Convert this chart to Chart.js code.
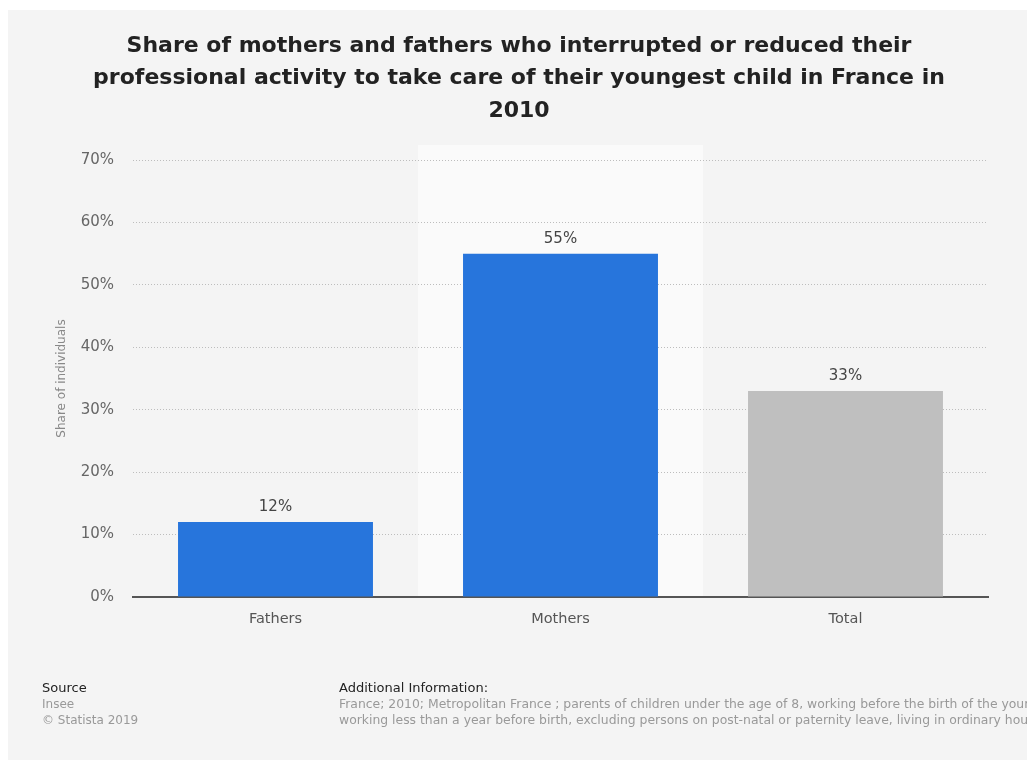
<!DOCTYPE html>
<html>
<head>
<meta charset="utf-8">
<script src="https://cdn.jsdelivr.net/npm/chart.js@4/dist/chart.umd.min.js"></script>
<style>
  html, body { margin: 0; padding: 0; background: #fff; }
  #wrap { width: 1027px; height: 762px; position: relative; }
</style>
</head>
<body>
<div id="wrap"><canvas id="chart" width="1027" height="762"></canvas></div>
<script>
var categories = ["Fathers", "Mothers", "Total"];
var shares = [12, 55, 33];
var barColors = ["#2775dc", "#2775dc", "#bfbfbf"];
var yTicks = [0, 10, 20, 30, 40, 50, 60, 70];

var titleLines = [
  "Share of mothers and fathers who interrupted or reduced their",
  "professional activity to take care of their youngest child in France in",
  "2010"
];
var infoLines = [
  "France; 2010; Metropolitan France ; parents of children under the age of 8, working before the birth of the youngest child or having stopped",
  "working less than a year before birth, excluding persons on post-natal or paternity leave, living in ordinary households"
];

var font = "'DejaVu Sans', sans-serif";

var panelBg = {
  id: "panelBg",
  beforeDraw: function (chart) {
    var ctx = chart.ctx, a = chart.chartArea, x = chart.scales.x;
    ctx.save();
    ctx.fillStyle = "#ffffff";
    ctx.fillRect(0, 0, chart.width, chart.height);
    ctx.fillStyle = "#f4f4f4";
    ctx.fillRect(8, 10, chart.width - 8, chart.height - 12);
    // highlighted column behind the Mothers bar
    var half = (a.right - a.left) / categories.length / 2;
    var cx = x.getPixelForValue(1);
    ctx.fillStyle = "#fafafa";
    ctx.fillRect(cx - half, a.top - 15, half * 2, a.bottom - a.top + 15);
    // title
    ctx.font = "bold 22px " + font;
    ctx.fillStyle = "#222";
    ctx.textAlign = "center";
    ctx.textBaseline = "middle";
    titleLines.forEach(function (t, i) {
      ctx.fillText(t, 519, 46 + i * 32.5);
    });
    ctx.restore();
  }
};

var valueLabels = {
  id: "valueLabels",
  afterDatasetsDraw: function (chart) {
    var ctx = chart.ctx;
    var meta = chart.getDatasetMeta(0);
    ctx.save();
    ctx.font = "15px " + font;
    ctx.fillStyle = "#444";
    ctx.textAlign = "center";
    ctx.textBaseline = "middle";
    meta.data.forEach(function (bar, i) {
      ctx.fillText(shares[i] + "%", bar.x, bar.y - 15);
    });
    ctx.restore();
  }
};

var footer = {
  id: "footer",
  afterDraw: function (chart) {
    var ctx = chart.ctx;
    ctx.save();
    ctx.textBaseline = "middle";
    ctx.textAlign = "left";
    ctx.font = "13px " + font;
    ctx.fillStyle = "#222";
    ctx.fillText("Source", 42, 689);
    ctx.fillText("Additional Information:", 339, 689);
    ctx.font = "12px " + font;
    ctx.fillStyle = "#999";
    ctx.fillText("Insee", 42, 705);
    ctx.fillText("\u00a9 Statista 2019", 42, 721);
    ctx.font = "12.4px " + font;
    ctx.fillText(infoLines[0], 339, 705);
    ctx.fillText(infoLines[1], 339, 721);
    ctx.restore();
  }
};

new Chart(document.getElementById("chart"), {
  type: "bar",
  data: {
    labels: categories,
    datasets: [{
      data: shares,
      backgroundColor: barColors,
      borderWidth: 0,
      barPercentage: 0.684,
      categoryPercentage: 1
    }]
  },
  options: {
    responsive: false,
    animation: false,
    devicePixelRatio: 1,
    layout: { padding: { left: 0, right: 39, top: 160, bottom: 120 } },
    plugins: {
      legend: { display: false },
      tooltip: { enabled: false },
      title: { display: false }
    },
    scales: {
      x: {
        grid: { display: false },
        border: { display: true, color: "#555", width: 2 },
        ticks: { color: "#555", font: { family: font, size: 14.5 }, padding: 6 },
        afterFit: function (s) { s.height = 45; }
      },
      y: {
        min: 0,
        max: 70,
        afterBuildTicks: function (s) {
          s.ticks = yTicks.map(function (v) { return { value: v }; });
        },
        grid: { color: "#bdbdbd", lineWidth: 1, drawTicks: false },
        border: { display: false, dash: [1, 2] },
        ticks: {
          color: "#666",
          font: { family: font, size: 15 },
          padding: 19,
          callback: function (v) { return v + "%"; }
        },
        title: {
          display: true,
          text: "Share of individuals",
          color: "#888",
          font: { family: font, size: 12 },
          padding: { top: 55, bottom: 0 }
        },
        afterFit: function (s) { s.width = 133; }
      }
    }
  },
  plugins: [panelBg, valueLabels, footer]
});
</script>
</body>
</html>
